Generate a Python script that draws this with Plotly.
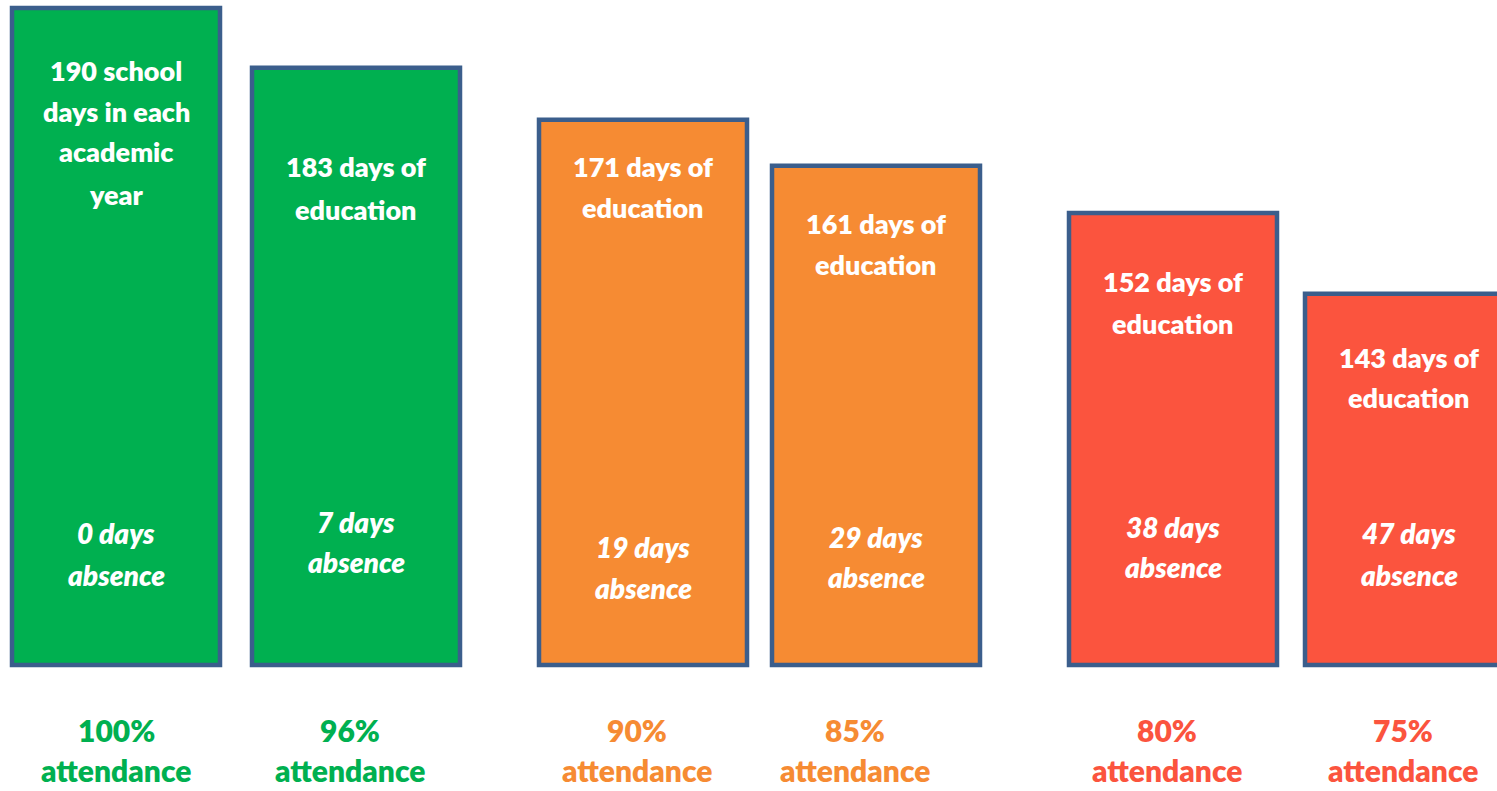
import plotly.graph_objects as go

# ---------------- data ----------------
attendance_pct = ["100%", "96%", "90%", "85%", "80%", "75%"]
education_days = [190, 183, 171, 161, 152, 143]
absence_days = [0, 7, 19, 29, 38, 47]
# drawn bar height relative to the tallest bar
bar_height = [100, 90.9, 83.0, 76.0, 68.8, 56.5]
band = ["green", "green", "orange", "orange", "red", "red"]

# ---------------- styles / layout ----------------
W, H = 1497, 791
BASE_PX = 665           # pixel row of the bar baseline
FULL_PX = 657           # pixel height of a 100 bar
fill = {"green": "#00B050", "orange": "#F68B33", "red": "#FB543E"}
OUTLINE = "#3B5E8C"
FONT = "Lato"
WEIGHT = 800

group_start = [116, 643, 1173]
pair_step = [240, 233, 236]

def xpos(i):
    g, j = divmod(i, 2)
    return group_start[g] + j * pair_step[g]

top_text_px = [[70, 111, 152, 194], [166, 209], [167, 208], [223, 265], [281, 323], [357, 397]]
absence_px = [[533, 575], [522, 562], [547, 588], [537, 577], [527, 567], [533, 575]]
label_dx = [0, -6, -6, -21, -6, -6]
label_px = [730, 770]

def py(px):
    return 1 - px / H

xs = [xpos(i) for i in range(len(bar_height))]
colors = [fill[b] for b in band]

fig = go.Figure(go.Bar(
    x=xs, y=bar_height, width=208,
    marker=dict(color=colors, line=dict(color=OUTLINE, width=4.5)),
    hoverinfo="skip",
))

ann = []
for i in range(len(bar_height)):
    if i == 0:
        lines = ["190 school", "days in each", "academic", "year"]
    else:
        lines = [f"{education_days[i]} days of", "education"]
    for t, p in zip(lines, top_text_px[i]):
        ann.append(dict(x=xs[i], y=py(p), xref="x", yref="paper", text=t, showarrow=False,
                        xanchor="center", yanchor="middle",
                        font=dict(family=FONT, size=27, color="white", weight=WEIGHT)))
    for t, p in zip([f"{absence_days[i]} days", "absence"], absence_px[i]):
        ann.append(dict(x=xs[i], y=py(p), xref="x", yref="paper", text=t, showarrow=False,
                        xanchor="center", yanchor="middle",
                        font=dict(family=FONT, size=28, color="white", weight=WEIGHT, style="italic")))
    for t, p in zip([attendance_pct[i], "attendance"], label_px):
        ann.append(dict(x=xs[i] + label_dx[i], y=py(p), xref="x", yref="paper", text=t, showarrow=False,
                        xanchor="center", yanchor="middle", borderpad=0,
                        font=dict(family=FONT, size=30, color=colors[i], weight=WEIGHT)))

ymax = BASE_PX / FULL_PX * 100
ymin = -(H - BASE_PX) / FULL_PX * 100

fig.update_layout(
    width=W, height=H, autosize=False,
    margin=dict(l=0, r=0, t=0, b=0),
    paper_bgcolor="white", plot_bgcolor="white",
    showlegend=False,
    xaxis=dict(range=[0, W], visible=False, fixedrange=True),
    yaxis=dict(range=[ymin, ymax], visible=False, fixedrange=True),
    annotations=ann,
)

fig.write_html("out.html", config={"displayModeBar": False},
               post_script="document.body.style.margin='0';document.body.style.overflow='hidden';")
